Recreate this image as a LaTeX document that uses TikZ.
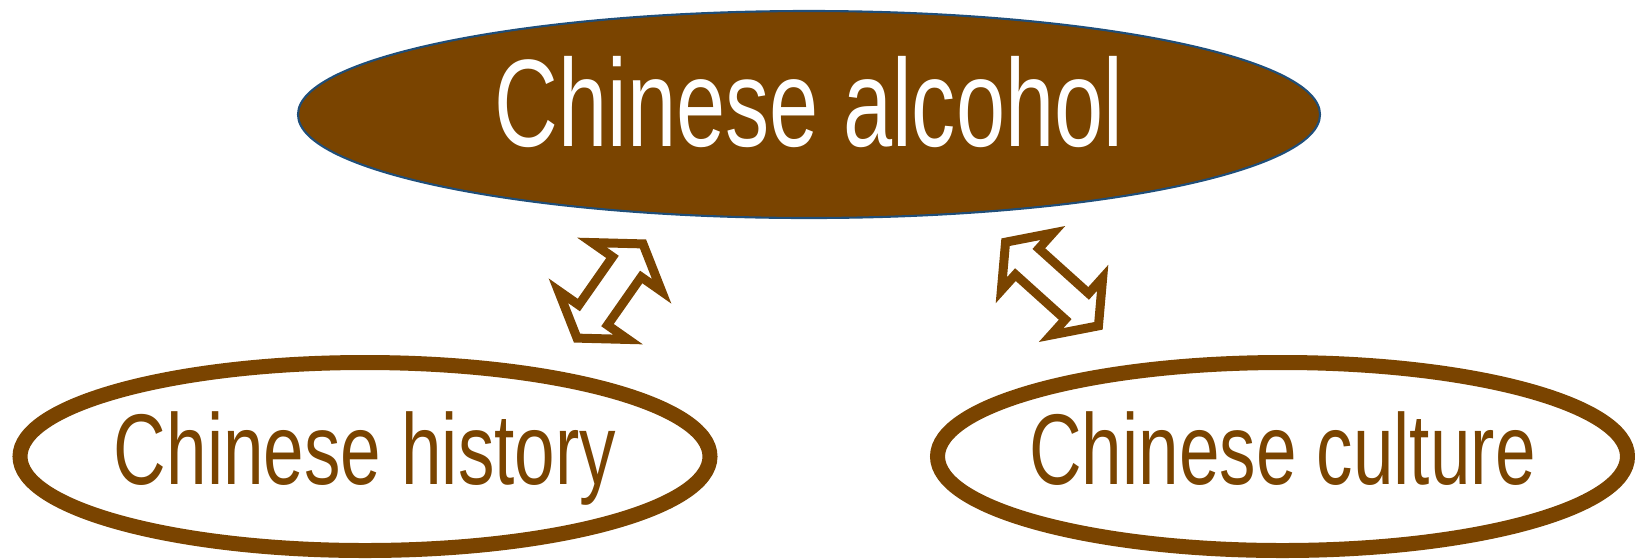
\documentclass[tikz,border=0pt]{standalone}
\usepackage{fontspec}
\newfontfamily\alcfont[FakeStretch=0.71]{Liberation Sans}
\newfontfamily\topicfont[FakeStretch=0.725]{Liberation Sans}
\usetikzlibrary{shapes.geometric,shapes.arrows}
\definecolor{liquor}{RGB}{122,68,0}
\definecolor{rim}{RGB}{31,78,121}

\begin{document}
\begin{tikzpicture}[mainnode/.style={ellipse,fill=liquor,draw=rim,
  line width=0.6pt,inner sep=0pt,minimum width=10.22cm,minimum height=2.07cm,
  text=white,font=\alcfont\fontsize{35.4}{40}\selectfont,
  text height=0.89cm,text depth=0.26cm},
  topicnode/.style={ellipse,fill=white,draw=liquor,line width=0.15cm,
  inner ysep=0pt,inner xsep=-0.5cm,minimum width=6.9cm,minimum height=1.88cm,
  text=liquor,font=\topicfont\fontsize{28.6}{32}\selectfont,
  text height=0.72cm,text depth=0.17cm},
  linkarrow/.style={double arrow,fill=white,draw=liquor,line width=0.09cm,
  inner xsep=0pt,inner ysep=0.13cm}]
\useasboundingbox (0,0) rectangle (16.35,5.59);
\node[mainnode] (alcohol) at (8.09,4.445) {Chinese alcohol};
\node[topicnode] (history) at (3.65,1.025) {Chinese history};
\node[topicnode] (culture) at (12.825,1.025) {Chinese culture};
\node[linkarrow,rotate=55,minimum height=1.15cm,
  double arrow head extend=0.25cm,double arrow tip angle=113] (tohistory) at (6.1,2.68) {};
\node[linkarrow,rotate=-42,minimum height=1.25cm,
  double arrow head extend=0.21cm,double arrow tip angle=106] (toculture) at (10.52,2.75) {};
\end{tikzpicture}
\end{document}
